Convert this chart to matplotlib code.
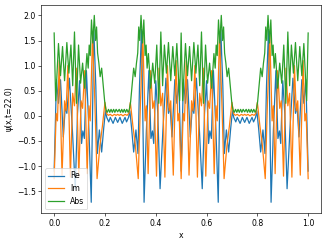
import matplotlib
matplotlib.use("Agg")
import matplotlib.pyplot as plt

# Abs |psi|
abs_x = [0.000,0.006,0.017,0.025,0.033,0.041,0.050,0.058,0.066,0.073,0.080,0.088,0.096,0.104,0.112,0.120,0.129,0.134,0.138,0.142,0.147,0.152,0.158,0.163,0.167,0.171,0.176,0.181,0.187,0.193,0.199,0.204,0.209,0.214,0.219,0.224,0.229,0.234,0.239,0.244,0.250,
         0.256,0.261,0.266,0.271,0.276,0.281,0.286,0.291,0.296,0.301,0.307,0.313,0.319,0.324,0.329,0.333,0.337,0.342,0.348,0.353,0.358,0.362,0.366,0.371,0.380,0.388,0.396,0.404,0.412,0.420,0.427,0.434,0.442,0.450,0.459,0.467,0.475,0.483,0.494,0.500,
         0.506,0.517,0.525,0.533,0.541,0.550,0.558,0.566,0.573,0.580,0.588,0.596,0.604,0.612,0.620,0.629,0.634,0.638,0.642,0.647,0.652,0.658,0.663,0.667,0.671,0.676,0.681,0.687,0.693,0.699,0.704,0.709,0.714,0.719,0.724,0.729,0.734,0.739,0.744,0.750,
         0.756,0.761,0.766,0.771,0.776,0.781,0.786,0.791,0.796,0.801,0.807,0.813,0.819,0.824,0.829,0.833,0.837,0.842,0.848,0.853,0.858,0.862,0.866,0.871,0.880,0.888,0.896,0.904,0.912,0.920,0.927,0.934,0.942,0.950,0.959,0.967,0.975,0.983,0.994,1.000]
abs_y = [1.65,0.30,1.44,0.80,1.38,0.70,1.46,0.85,1.41,0.60,1.67,0.25,1.41,0.65,1.05,0.55,1.24,0.95,1.41,1.20,1.91,1.45,2.00,1.50,1.77,1.25,1.05,0.78,0.95,0.62,0.28,0.12,0.07,0.13,0.07,0.13,0.07,0.13,0.07,0.13,0.08,
         0.13,0.07,0.13,0.07,0.13,0.07,0.13,0.07,0.12,0.28,0.62,0.95,0.78,1.05,1.25,1.77,1.50,2.00,1.45,1.91,1.20,1.41,0.95,1.24,0.55,1.05,0.65,1.41,0.25,1.67,0.60,1.41,0.85,1.46,0.70,1.38,0.80,1.44,0.30,1.65,
         0.30,1.44,0.80,1.38,0.70,1.46,0.85,1.41,0.60,1.67,0.25,1.41,0.65,1.05,0.55,1.24,0.95,1.41,1.20,1.91,1.45,2.00,1.50,1.77,1.25,1.05,0.78,0.95,0.62,0.28,0.12,0.07,0.13,0.07,0.13,0.07,0.13,0.07,0.13,0.08,
         0.13,0.07,0.13,0.07,0.13,0.07,0.13,0.07,0.12,0.28,0.62,0.95,0.78,1.05,1.25,1.77,1.50,2.00,1.45,1.91,1.20,1.41,0.95,1.24,0.55,1.05,0.65,1.41,0.25,1.67,0.60,1.41,0.85,1.46,0.70,1.38,0.80,1.44,0.30,1.65]

# Re psi
re_x = [0.000,0.009,0.017,0.025,0.036,0.044,0.050,0.060,0.072,0.083,0.092,0.100,0.108,0.113,0.119,0.127,0.137,0.146,0.156,0.164,0.170,0.178,0.187,0.195,0.202,0.207,0.215,0.221,0.232,0.241,0.250,
        0.259,0.268,0.279,0.285,0.293,0.298,0.305,0.313,0.322,0.330,0.336,0.344,0.354,0.363,0.373,0.381,0.387,0.392,0.400,0.408,0.417,0.428,0.440,0.450,0.456,0.464,0.475,0.483,0.491,0.500,
        0.509,0.517,0.525,0.536,0.544,0.550,0.560,0.572,0.583,0.592,0.600,0.608,0.613,0.619,0.627,0.637,0.646,0.656,0.664,0.670,0.678,0.687,0.695,0.702,0.707,0.715,0.721,0.732,0.741,0.750,
        0.759,0.768,0.779,0.785,0.793,0.798,0.805,0.813,0.822,0.830,0.836,0.844,0.854,0.863,0.873,0.881,0.887,0.892,0.900,0.908,0.917,0.928,0.940,0.950,0.956,0.964,0.975,0.983,0.991,1.000]
re_y = [-1.10,0.72,0.25,0.72,-0.42,0.20,0.05,0.75,-0.30,-1.45,0.05,0.70,-0.55,-0.30,-0.45,0.90,-0.30,-1.72,1.72,0.60,-0.75,-0.28,-0.72,-0.25,0.10,-0.03,-0.12,-0.03,-0.15,-0.03,-0.13,
        -0.03,-0.15,-0.03,-0.12,-0.03,0.10,-0.25,-0.72,-0.28,-0.75,0.60,1.72,-1.72,-0.30,0.90,-0.45,-0.30,-0.55,0.70,0.05,-1.45,-0.30,0.75,0.05,0.20,-0.42,0.72,0.25,0.72,-1.10,
        0.72,0.25,0.72,-0.42,0.20,0.05,0.75,-0.30,-1.45,0.05,0.70,-0.55,-0.30,-0.45,0.90,-0.30,-1.72,1.72,0.60,-0.75,-0.28,-0.72,-0.25,0.10,-0.03,-0.12,-0.03,-0.15,-0.03,-0.13,
        -0.03,-0.15,-0.03,-0.12,-0.03,0.10,-0.25,-0.72,-0.28,-0.75,0.60,1.72,-1.72,-0.30,0.90,-0.45,-0.30,-0.55,0.70,0.05,-1.45,-0.30,0.75,0.05,0.20,-0.42,0.72,0.25,0.72,-1.10]

# Im psi
im_x = [0.000,0.008,0.013,0.020,0.031,0.041,0.047,0.054,0.064,0.073,0.080,0.087,0.097,0.106,0.112,0.120,0.130,0.137,0.142,0.151,0.160,0.169,0.180,0.190,0.200,0.206,0.213,0.221,0.229,0.237,0.244,0.250,
        0.256,0.263,0.271,0.279,0.287,0.294,0.300,0.310,0.320,0.331,0.340,0.349,0.358,0.363,0.370,0.380,0.388,0.394,0.403,0.413,0.420,0.427,0.436,0.446,0.453,0.459,0.469,0.480,0.487,0.492,0.500,
        0.508,0.513,0.520,0.531,0.541,0.547,0.554,0.564,0.573,0.580,0.587,0.597,0.606,0.612,0.620,0.630,0.637,0.642,0.651,0.660,0.669,0.680,0.690,0.700,0.706,0.713,0.721,0.729,0.737,0.744,0.750,
        0.756,0.763,0.771,0.779,0.787,0.794,0.800,0.810,0.820,0.831,0.840,0.849,0.858,0.863,0.870,0.880,0.888,0.894,0.903,0.913,0.920,0.927,0.936,0.946,0.953,0.959,0.969,0.980,0.987,0.992,1.000]
im_y = [-1.25,0.05,-0.10,1.10,-1.18,0.30,0.10,1.00,-1.22,0.45,0.20,0.95,-1.20,0.30,0.15,0.90,-1.15,0.20,-0.10,1.60,0.30,-1.25,-0.60,-0.20,0.27,0.05,0.01,0.03,0.00,0.03,0.01,0.03,
        0.01,0.03,0.00,0.03,0.01,0.05,0.27,-0.20,-0.60,-1.25,0.30,1.60,-0.10,0.20,-1.15,0.90,0.15,0.30,-1.20,0.95,0.20,0.45,-1.22,1.00,0.10,0.30,-1.18,1.10,-0.10,0.05,-1.25,
        0.05,-0.10,1.10,-1.18,0.30,0.10,1.00,-1.22,0.45,0.20,0.95,-1.20,0.30,0.15,0.90,-1.15,0.20,-0.10,1.60,0.30,-1.25,-0.60,-0.20,0.27,0.05,0.01,0.03,0.00,0.03,0.01,0.03,
        0.01,0.03,0.00,0.03,0.01,0.05,0.27,-0.20,-0.60,-1.25,0.30,1.60,-0.10,0.20,-1.15,0.90,0.15,0.30,-1.20,0.95,0.20,0.45,-1.22,1.00,0.10,0.30,-1.18,1.10,-0.10,0.05,-1.25]

DPI = 56
fig = plt.figure(figsize=(327 / DPI, 243 / DPI), dpi=DPI)
ax = fig.add_axes([0.126, 0.123, 0.856, 0.856])
ax.plot(re_x, re_y, label="Re", lw=1.6)
ax.plot(im_x, im_y, label="Im", lw=1.6)
ax.plot(abs_x, abs_y, label="Abs", lw=1.6)
ax.set_xlim(-0.051, 1.051)
ax.set_ylim(-1.936, 2.205)
ax.set_xlabel("x")
ax.set_ylabel("ψ(x,t=22.0)")
ax.legend(loc="lower left")
fig.savefig("out.png", dpi=DPI)
